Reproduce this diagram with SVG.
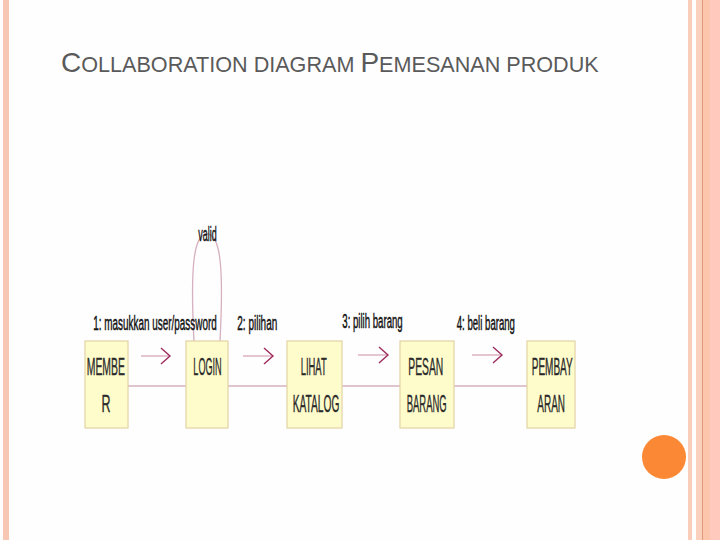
<svg xmlns="http://www.w3.org/2000/svg" width="720" height="540" viewBox="0 0 720 540">
<defs>
<style>
.node rect{fill:#fffccc;stroke:#e2d3a4;stroke-width:1.2}
.nt{font-family:"Liberation Sans",Arial,sans-serif;font-size:24px;fill:#2a2a2a;stroke:#2a2a2a;stroke-width:0.4}
.lb{font-family:"Liberation Sans",Arial,sans-serif;font-size:21px;fill:#111;stroke:#111;stroke-width:0.5}
.link{stroke:#d6b0c0;stroke-width:1.3;fill:none}
.msg{stroke:#d8a4b8;stroke-width:1.3;fill:none}
.head{stroke:#9c2c5c;stroke-width:1.4;fill:none}
.title{font-family:"Liberation Sans",Arial,sans-serif;fill:#5a5a5a}
</style>
<marker id="chev" markerUnits="userSpaceOnUse" markerWidth="14" markerHeight="20" refX="10" refY="9" orient="auto">
<path d="M1,1 L10,9 L1,17" class="head"/>
</marker>
</defs>
<rect width="720" height="540" fill="#fefefe"/>
<rect x="3" y="0" width="6" height="540" fill="#f8c7b3"/>
<rect x="688" y="0" width="4" height="540" fill="#f9cdb9"/>
<rect x="696" y="0" width="6" height="540" fill="#fbd0bd"/>
<rect x="702" y="0" width="1" height="540" fill="#e29a78"/>
<rect x="703" y="0" width="7" height="540" fill="#fcc6ac"/>
<rect x="710" y="0" width="10" height="540" fill="#ffcabd"/>
<circle cx="664" cy="457" r="22" fill="#fb8834"/>
<text class="title" x="61" y="72"><tspan font-size="28">C</tspan><tspan font-size="21.6">OLLABORATION DIAGRAM </tspan><tspan font-size="28">P</tspan><tspan font-size="21.6">EMESANAN PRODUK</tspan></text>
<g id="connectors">
<line class="link" x1="128" y1="386" x2="186" y2="386"/>
<line class="link" x1="228" y1="386" x2="287" y2="386"/>
<line class="link" x1="342" y1="386" x2="400" y2="386"/>
<line class="link" x1="454" y1="386" x2="527" y2="386"/>
<path class="link" d="M194,341 C190,265 194,234 207,234 C220,234 224,265 220,341"/>
<line class="msg" x1="141" y1="356" x2="170" y2="356" marker-end="url(#chev)"/>
<line class="msg" x1="243" y1="356" x2="273" y2="356" marker-end="url(#chev)"/>
<line class="msg" x1="358" y1="355" x2="388" y2="355" marker-end="url(#chev)"/>
<line class="msg" x1="472" y1="355" x2="502" y2="355" marker-end="url(#chev)"/>
<text class="lb" transform="translate(198.3,241) scale(0.47,1)" textLength="39.1" lengthAdjust="spacingAndGlyphs">valid</text>
<text class="lb" transform="translate(93.3,330) scale(0.47,1)" textLength="262.6" lengthAdjust="spacingAndGlyphs">1: masukkan user/password</text>
<text class="lb" transform="translate(237.3,330) scale(0.47,1)" textLength="85.1" lengthAdjust="spacingAndGlyphs">2: pilihan</text>
<text class="lb" transform="translate(342.3,328) scale(0.47,1)" textLength="128.5" lengthAdjust="spacingAndGlyphs">3: pilih barang</text>
<text class="lb" transform="translate(456.7,330) scale(0.47,1)" textLength="124" lengthAdjust="spacingAndGlyphs">4: beli barang</text>
</g>
<g id="member" class="node">
<rect x="85" y="341" width="43" height="87"/>
<text class="nt" transform="translate(86.7,375) scale(0.41,1)" textLength="93.4" lengthAdjust="spacingAndGlyphs">MEMBE</text>
<text class="nt" transform="translate(101.5,412) scale(0.41,1)" textLength="22" lengthAdjust="spacingAndGlyphs">R</text>
</g>
<g id="login" class="node">
<rect x="186" y="341" width="42" height="87"/>
<text class="nt" transform="translate(193.3,375) scale(0.41,1)" textLength="69.3" lengthAdjust="spacingAndGlyphs">LOGIN</text>
</g>
<g id="lihat-katalog" class="node">
<rect x="287" y="341" width="55" height="87"/>
<text class="nt" transform="translate(300.7,375) scale(0.41,1)" textLength="63.4" lengthAdjust="spacingAndGlyphs">LIHAT</text>
<text class="nt" transform="translate(292.7,412) scale(0.41,1)" textLength="113.7" lengthAdjust="spacingAndGlyphs">KATALOG</text>
</g>
<g id="pesan-barang" class="node">
<rect x="400" y="341" width="54" height="87"/>
<text class="nt" transform="translate(408.3,375) scale(0.41,1)" textLength="85.4" lengthAdjust="spacingAndGlyphs">PESAN</text>
<text class="nt" transform="translate(406.7,412) scale(0.41,1)" textLength="97.6" lengthAdjust="spacingAndGlyphs">BARANG</text>
</g>
<g id="pembayaran" class="node">
<rect x="527" y="341" width="48" height="87"/>
<text class="nt" transform="translate(531.7,375) scale(0.41,1)" textLength="100" lengthAdjust="spacingAndGlyphs">PEMBAY</text>
<text class="nt" transform="translate(537.3,412) scale(0.41,1)" textLength="67.6" lengthAdjust="spacingAndGlyphs">ARAN</text>
</g>
</svg>
